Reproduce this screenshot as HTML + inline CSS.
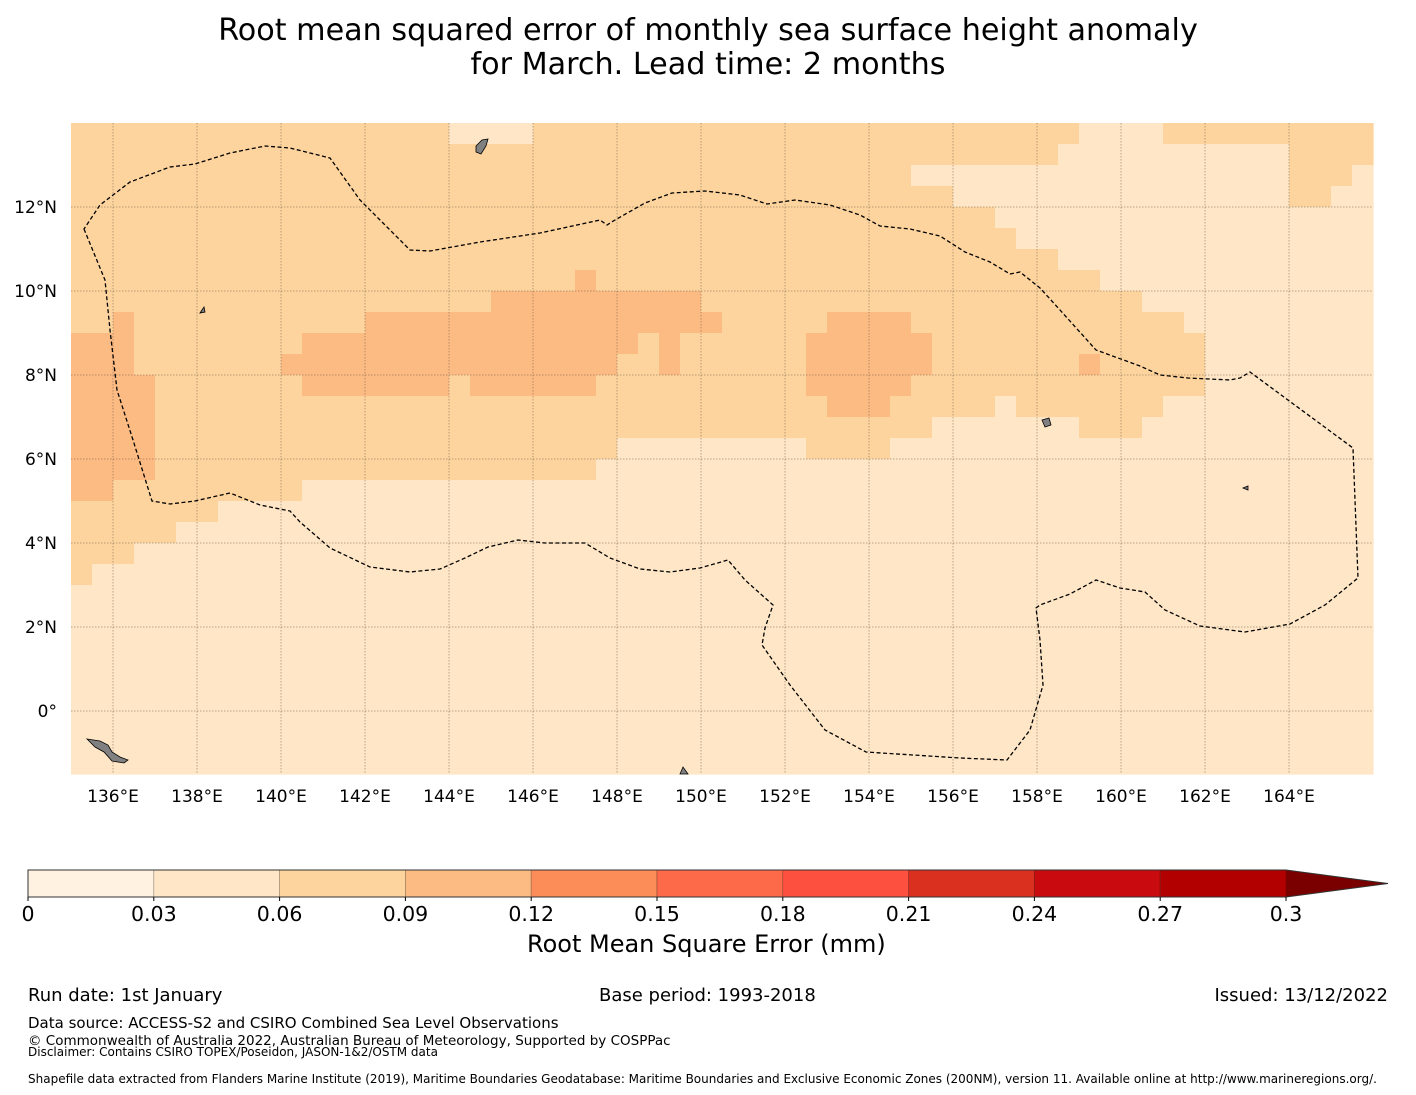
<!DOCTYPE html>
<html><head><meta charset="utf-8">
<style>
html,body{margin:0;padding:0;background:#fff;}
body{width:1416px;height:1095px;position:relative;overflow:hidden;font-family:"DejaVu Sans","Liberation Sans",sans-serif;}
.t{position:absolute;color:#000;white-space:nowrap;}
</style></head>
<body>
<div class="t" style="left:0;width:1416px;top:14px;text-align:center;font-size:30.2px;line-height:34px;">Root mean squared error of monthly sea surface height anomaly<br>for March. Lead time: 2 months</div>
<svg id="map" width="1416" height="1095" style="position:absolute;left:0;top:0" xmlns="http://www.w3.org/2000/svg" font-family="DejaVu Sans, Liberation Sans, sans-serif"></svg>
<div class="t" style="left:527px;top:930px;font-size:24px;">Root Mean Square Error (mm)</div>
<div class="t" style="left:28px;top:985px;font-size:18px;">Run date: 1st January</div>
<div class="t" style="left:599px;top:985px;font-size:18px;">Base period: 1993-2018</div>
<div class="t" style="right:28px;top:985px;font-size:18px;">Issued: 13/12/2022</div>
<div class="t" style="left:28px;top:1014px;font-size:15px;">Data source: ACCESS-S2 and CSIRO Combined Sea Level Observations</div>
<div class="t" style="left:28px;top:1033px;font-size:13.5px;">© Commonwealth of Australia 2022, Australian Bureau of Meteorology, Supported by COSPPac</div>
<div class="t" style="left:28px;top:1045px;font-size:12px;">Disclaimer: Contains CSIRO TOPEX/Poseidon, JASON-1&amp;2/OSTM data</div>
<div class="t" style="left:28px;top:1072px;font-size:12px;">Shapefile data extracted from Flanders Marine Institute (2019), Maritime Boundaries Geodatabase: Maritime Boundaries and Exclusive Economic Zones (200NM), version 11. Available online at http://www.marineregions.org/.</div>
<script>
// Grid: 0.5° cells, lon 135..166E (62 cols), lat 14N..-1.5 (31 rows). Digit = colour bin index.
const gridRows = [
"22222222222222222211112222222222222222222222222211112222222222",
"22222222222222222222222222222222222222222222222111111111112222",
"22222222222222222222222222222222222222221111111111111111112221",
"22222222222222222222222222222222222222222211111111111111112211",
"22222222222222222222222222222222222222222222111111111111111111",
"22222222222222222222222222222222222222222222211111111111111111",
"22222222222222222222222222222222222222222222222111111111111111",
"22222222222222222222222232222222222222222222222221111111111111",
"22222222222222222222333333333322222222222222222222211111111111",
"22322222222222333333333333333332222233332222222222222111111111",
"33322222222333333333333333323222222333333222222222222211111111",
"33322222223333333333333333223222222333333222222232222211111111",
"33332222222333333323333332222222222333332222222222222211111111",
"33332222222222222222222222222222222233322222122222221111111111",
"33332222222222222222222222222222222222222111111122211111111111",
"33332222222222222222222222111111111222211111111111111111111111",
"33332222222222222222222221111111111111111111111111111111111111",
"33222222222111111111111111111111111111111111111111111111111111",
"22222221111111111111111111111111111111111111111111111111111111",
"22222111111111111111111111111111111111111111111111111111111111",
"22211111111111111111111111111111111111111111111111111111111111",
"21111111111111111111111111111111111111111111111111111111111111",
"11111111111111111111111111111111111111111111111111111111111111",
"11111111111111111111111111111111111111111111111111111111111111",
"11111111111111111111111111111111111111111111111111111111111111",
"11111111111111111111111111111111111111111111111111111111111111",
"11111111111111111111111111111111111111111111111111111111111111",
"11111111111111111111111111111111111111111111111111111111111111",
"11111111111111111111111111111111111111111111111111111111111111",
"11111111111111111111111111111111111111111111111111111111111111",
"11111111111111111111111111111111111111111111111111111111111111"
];
const binEdges = [0,0.03,0.06,0.09,0.12,0.15,0.18,0.21,0.24,0.27,0.3];
const binColors = ["#fff2e0","#fee6c6","#fdd49e","#fdbb84","#fc8d59","#fd6a4a","#fe503e","#da3020","#c90a0e","#b20000"];
const extendColor = "#7a0000";
const lonTicks = [136,138,140,142,144,146,148,150,152,154,156,158,160,162,164];
const latTicks = [12,10,8,6,4,2,0];
const cbTicks = ["0","0.03","0.06","0.09","0.12","0.15","0.18","0.21","0.24","0.27","0.3"];

const NS="http://www.w3.org/2000/svg";
const svg=document.getElementById('map');
const X0=71,X1=1373,Y0=123,Y1=774,LON0=135,LON1=166,LAT0=14,LAT1=-1.5;
const xs=lon=>X0+(lon-LON0)*(X1-X0)/(LON1-LON0);
const ys=lat=>Y0+(LAT0-lat)*(Y1-Y0)/(LAT0-LAT1);
function mk(tag,attrs,parent){const e=document.createElementNS(NS,tag);for(const k in attrs)e.setAttribute(k,attrs[k]);(parent||svg).appendChild(e);return e;}

const cells=mk('g',{});


gridRows.forEach((row,j)=>{
  for(let i=0;i<row.length;i++){
    const lon=LON0+i*0.5, lat=LAT0-j*0.5;
    const x=xs(lon),y=ys(lat),w=xs(lon+0.5)-x,h=ys(lat-0.5)-y;
    const r=mk('rect',{x:x.toFixed(2),y:y.toFixed(2),width:(w+0.6).toFixed(2),height:(h+0.6).toFixed(2),fill:binColors[+row[i]]},cells);
    
    
  }
});

const grid=mk('g',{stroke:'#5a4a3a','stroke-width':0.5,'stroke-dasharray':'1.5,1.5',opacity:0.85});


lonTicks.forEach(l=>{mk('line',{x1:xs(l),x2:xs(l),y1:Y0,y2:Y1},grid);});
latTicks.forEach(l=>{mk('line',{x1:X0,x2:X1,y1:ys(l),y2:ys(l)},grid);});

const eez=mk('path',{fill:'none',stroke:'#000','stroke-width':1.3,'stroke-dasharray':'4,2.5',
d:'M84,229 L105,280 110,330 117,390 133,440 152,501 170,504 195,501 230,493 260,505 290,511 300,522 330,548 370,567 410,572 440,569 465,558 488,547 518,540 545,543 585,543 610,558 640,569 670,572 700,568 728,560 745,580 773,605 765,628 762,645 790,685 825,730 866,752 960,758 1007,760 1030,730 1043,685 1040,640 1036,608 1040,605 1070,594 1096,580 1120,588 1145,592 1165,610 1200,626 1245,632 1290,624 1325,605 1358,578 1353,448 1250,372 1240,378 1230,380 1188,378 1160,375 1140,366 1096,350 1060,310 1040,288 1020,272 1010,274 990,262 965,252 940,236 910,229 880,226 860,215 830,205 795,200 767,204 740,195 705,191 672,193 645,203 615,220 607,225 600,220 540,233 480,242 430,251 410,250 360,200 330,158 290,148 265,146 230,153 195,164 170,167 130,182 100,205 Z'});



const isl=mk('g',{fill:'#808080',stroke:'#000','stroke-width':0.8});


mk('path',{d:'M87,739 L100,741 108,745 112,752 120,757 128,760 124,763 112,761 104,752 95,747 Z'},isl);
mk('path',{d:'M476,146 L482,140 488,139 486,146 481,154 476,152 Z'},isl);
mk('path',{d:'M1042,420 L1049,418 1051,425 1045,427 Z'},isl);
mk('path',{d:'M680,774 L683,767 688,774 Z'},isl);
mk('path',{d:'M1243,488 L1248,486 1248,490 Z'},isl);
mk('path',{d:'M200,313 L204,307 205,312 Z'},isl);

lonTicks.forEach(l=>{const t=mk('text',{x:xs(l),y:802,'text-anchor':'middle','font-size':17});t.textContent=l+'°E';
});
latTicks.forEach(l=>{const t=mk('text',{x:57,y:ys(l)+6,'text-anchor':'end','font-size':17});t.textContent=l===0?'0°':l+'°N';
});

const CB0=28,CB1=1286,CBY=870,CBH=27,CBTIP=1388;
const cb=mk('g',{});


const cx=v=>CB0+(v-binEdges[0])*(CB1-CB0)/(binEdges[binEdges.length-1]-binEdges[0]);
binColors.forEach((c,k)=>{const r=mk('rect',{x:cx(binEdges[k]),y:CBY,width:cx(binEdges[k+1])-cx(binEdges[k]),height:CBH,fill:c,stroke:'rgba(0,0,0,0.25)','stroke-width':0.8},cb);
});
const tip=mk('polygon',{points:`${CB1},${CBY} ${CBTIP},${CBY+CBH/2} ${CB1},${CBY+CBH}`,fill:extendColor},cb);

mk('polygon',{points:`${CB0},${CBY} ${CB1},${CBY} ${CBTIP},${CBY+CBH/2} ${CB1},${CBY+CBH} ${CB0},${CBY+CBH}`,fill:'none',stroke:'#333','stroke-width':1},cb);
cbTicks.forEach((s,k)=>{mk('line',{x1:cx(binEdges[k]),x2:cx(binEdges[k]),y1:CBY+CBH,y2:CBY+CBH+4,stroke:'#000'},cb);
const t=mk('text',{x:cx(binEdges[k]),y:921,'text-anchor':'middle','font-size':20.5},cb);t.textContent=s;
});
</script>
</body></html>
